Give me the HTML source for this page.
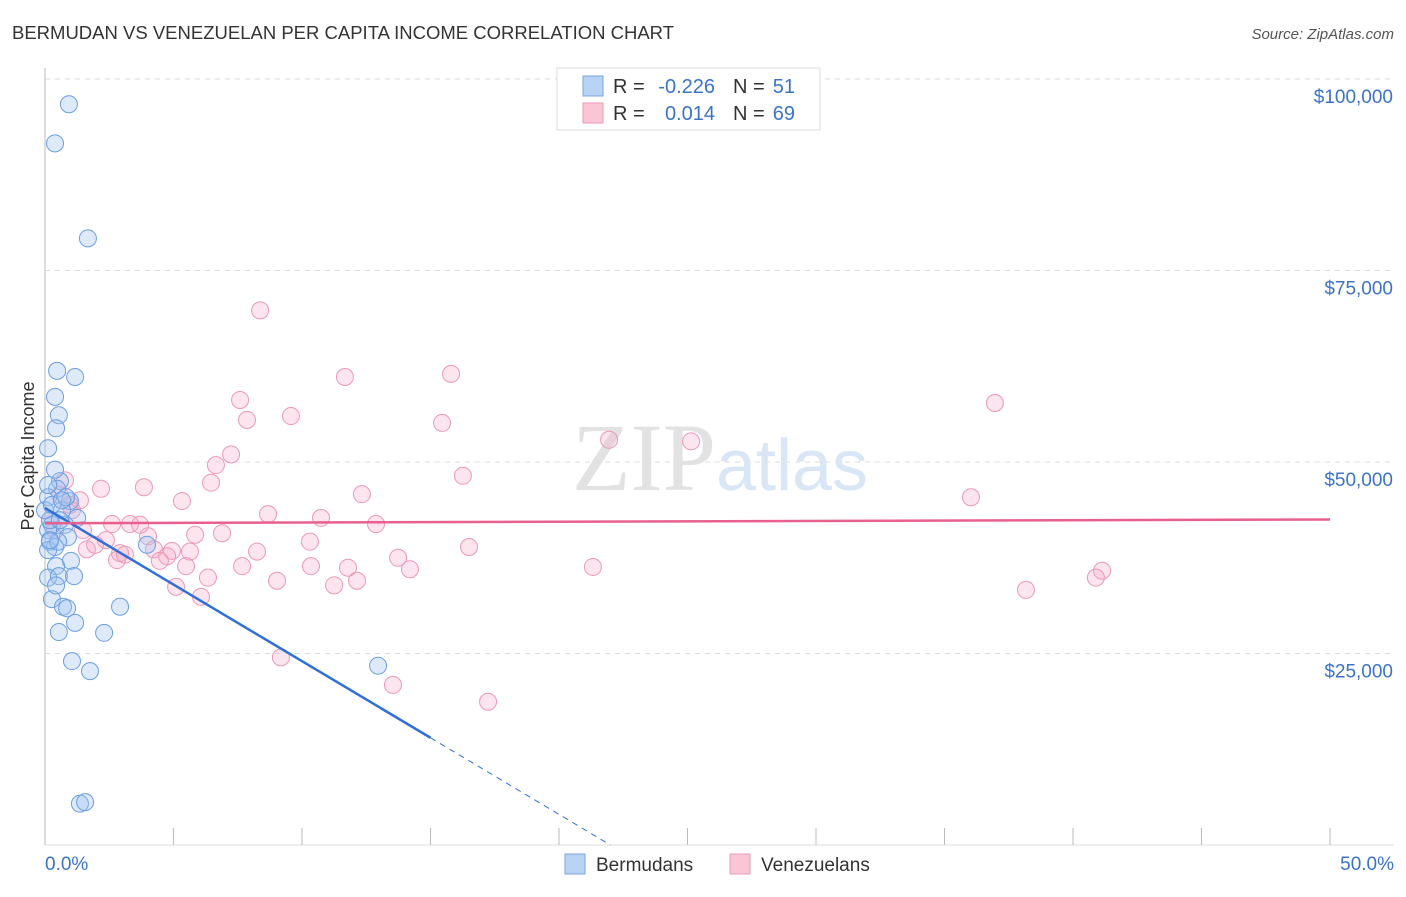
<!DOCTYPE html>
<html><head><meta charset="utf-8"><style>
body{margin:0;background:#fff;font-family:"Liberation Sans",sans-serif}
svg text{font-family:"Liberation Sans",sans-serif}
</style></head><body>
<svg width="1406" height="892" viewBox="0 0 1406 892" id="c">
<text x="12" y="39" font-size="18.5" fill="#333">BERMUDAN VS VENEZUELAN PER CAPITA INCOME CORRELATION CHART</text>
<text x="1394" y="39" font-size="15" fill="#555" font-style="italic" text-anchor="end">Source: ZipAtlas.com</text>
<text x="34" y="456" font-size="18" fill="#333" transform="rotate(-90 34 456)" text-anchor="middle">Per Capita Income</text>
<g id="grid"></g>
<text x="720" y="490" font-size="96" text-anchor="middle"><tspan fill="#e2e2e2" font-family="Liberation Serif">ZIP</tspan><tspan fill="#d9e6f6" font-size="72" font-family="Liberation Sans">atlas</tspan></text>
<g id="pts"></g>
<g id="lines"></g>
<g>
<rect x="557" y="68" width="263" height="62" fill="#fff" stroke="#ddd"/>
<rect x="583" y="76" width="20" height="20" fill="#b9d3f5" stroke="#7aa6e0"/>
<rect x="583" y="103" width="20" height="20" fill="#f9c6d6" stroke="#ee9ab5"/>
<text x="613" y="93" font-size="20" fill="#333">R =</text>
<text x="715" y="93" font-size="20" fill="#3b73c9" text-anchor="end">-0.226</text>
<text x="733" y="93" font-size="20" fill="#333">N =</text>
<text x="795" y="93" font-size="20" fill="#3b73c9" text-anchor="end">51</text>
<text x="613" y="120" font-size="20" fill="#333">R =</text>
<text x="715" y="120" font-size="20" fill="#3b73c9" text-anchor="end">0.014</text>
<text x="733" y="120" font-size="20" fill="#333">N =</text>
<text x="795" y="120" font-size="20" fill="#3b73c9" text-anchor="end">69</text>
</g>
<g>
<rect x="565" y="854" width="20" height="20" fill="#b9d3f5" stroke="#7aa6e0"/>
<text x="596" y="871" font-size="19" fill="#333">Bermudans</text>
<rect x="730" y="854" width="20" height="20" fill="#f9c6d6" stroke="#ee9ab5"/>
<text x="761" y="871" font-size="19" fill="#333">Venezuelans</text>
</g>
<text x="45" y="870" font-size="19" fill="#3b73c9">0.0%</text>
<text x="1394" y="870" font-size="19" fill="#3b73c9" text-anchor="end">50.0%</text>
</svg>
<script>
const yTicks=[25000,50000,75000,100000];
const yTickLabels=["$25,000","$50,000","$75,000","$100,000"];
const xTicks=[0,5,10,15,20,25,30,35,40,45,50];
const blueX=[0.93,0.39,1.67,0.47,1.17,0.39,0.54,0.43,0.12,0.58,0.47,0.12,0.97,1.25,0.27,0.78,0.12,0.89,0.19,0.39,0.12,1.01,0.43,0.12,0.54,1.13,0.27,0.70,0.86,2.92,1.17,0.54,2.30,1.05,1.75,12.96,1.36,1.56,3.97,0.51,0.19,0.0,0.66,0.27,0.43,0.58,0.82,0.19,0.66,0.39,0.12];
const blueY=[96.7,91.6,79.2,61.9,61.1,58.5,56.1,54.4,51.8,47.5,46.5,45.4,44.9,42.7,41.8,41.8,41.1,40.2,39.6,38.9,38.5,37.1,36.4,34.9,35.1,35.1,32.1,31.1,30.9,31.1,29.0,27.8,27.7,24.0,22.7,23.4,5.4,5.6,39.2,39.6,42.4,43.7,43.7,44.4,33.9,42.4,45.4,39.8,45.0,49.0,47.0];
const pinkX=[8.37,11.67,15.80,7.59,9.57,7.86,15.45,21.95,25.14,7.24,6.65,16.26,6.46,2.18,3.85,5.33,12.33,36.96,36.03,8.68,10.74,12.88,2.61,3.31,4.01,5.84,6.89,10.31,16.50,1.48,2.37,1.63,2.92,4.24,4.94,5.64,8.25,13.74,4.75,4.47,5.49,7.67,10.35,11.79,14.20,21.32,41.13,40.89,6.34,9.03,11.25,12.14,5.10,6.07,38.17,9.18,13.54,17.24,2.80,0.78,0.97,0.19,0.39,1.05,0.58,1.36,3.70,3.11,1.95];
const pinkY=[69.8,61.1,61.5,58.1,56.0,55.5,55.1,52.9,52.7,51.0,49.6,48.2,47.3,46.5,46.7,44.9,45.8,57.7,45.4,43.2,42.7,41.9,41.9,41.9,40.3,40.5,40.7,39.6,38.9,41.1,39.8,38.6,38.1,38.6,38.4,38.3,38.3,37.5,37.7,37.1,36.4,36.4,36.4,36.2,36.0,36.3,35.8,34.9,34.9,34.5,33.9,34.5,33.7,32.4,33.3,24.5,20.9,18.7,37.2,47.6,44.4,42.4,41.1,43.7,45.7,45.0,41.8,37.9,39.2];
const blueTrend=[44.0,-2.0];
const pinkTrend=[42.0,0.01];
const NS="http://www.w3.org/2000/svg";
const sx=x=>45+x*25.7, sy=v=>845-v*7.66;
function mk(t,a,p){const e=document.createElementNS(NS,t);for(const k in a)e.setAttribute(k,a[k]);p.appendChild(e);return e;}
const grid=document.getElementById('grid');
yTicks.forEach((t,i)=>{
  const l=mk('line',{x1:45,x2:1394,y1:sy(t/1000),y2:sy(t/1000),stroke:'#ddd','stroke-dasharray':'5,5'},grid);
  
  
  const tx=mk('text',{x:1393,y:sy(t/1000)+24,'font-size':19,fill:'#3b73c9','text-anchor':'end'},grid);
  tx.textContent=yTickLabels[i];
  
  
});
mk('line',{x1:45,x2:45,y1:68,y2:845,stroke:'#bbb'},grid);
mk('line',{x1:45,x2:1394,y1:845,y2:845,stroke:'#ddd'},grid);
xTicks.forEach(t=>{
  const l=mk('line',{x1:sx(t),x2:sx(t),y1:828,y2:845,stroke:'#bbb'},grid);
  
  
});
const pts=document.getElementById('pts');
pinkX.forEach((x,i)=>{
  const c=mk('circle',{cx:sx(x),cy:sy(pinkY[i]),r:8.5,fill:'rgba(246,170,198,0.3)',stroke:'#eb98b5','stroke-width':1},pts);
  
  
});
blueX.forEach((x,i)=>{
  const c=mk('circle',{cx:sx(x),cy:sy(blueY[i]),r:8.5,fill:'rgba(160,196,240,0.35)',stroke:'#6b9ee0','stroke-width':1},pts);
  
  
});
const ln=document.getElementById('lines');
const bt=x=>blueTrend[0]+blueTrend[1]*x;
let a=mk('line',{x1:sx(0),y1:sy(bt(0)),x2:sx(15),y2:sy(bt(15)),stroke:'#2f6fd6','stroke-width':2.5},ln);


const xe=-blueTrend[0]/blueTrend[1];
a=mk('line',{x1:sx(15),y1:sy(bt(15)),x2:sx(xe),y2:sy(0),stroke:'#2f6fd6','stroke-width':1,'stroke-dasharray':'6,5'},ln);


const pt=x=>pinkTrend[0]+pinkTrend[1]*x;
a=mk('line',{x1:sx(0),y1:sy(pt(0)),x2:sx(50),y2:sy(pt(50)),stroke:'#e8608d','stroke-width':2.5},ln);


</script>
</body></html>
